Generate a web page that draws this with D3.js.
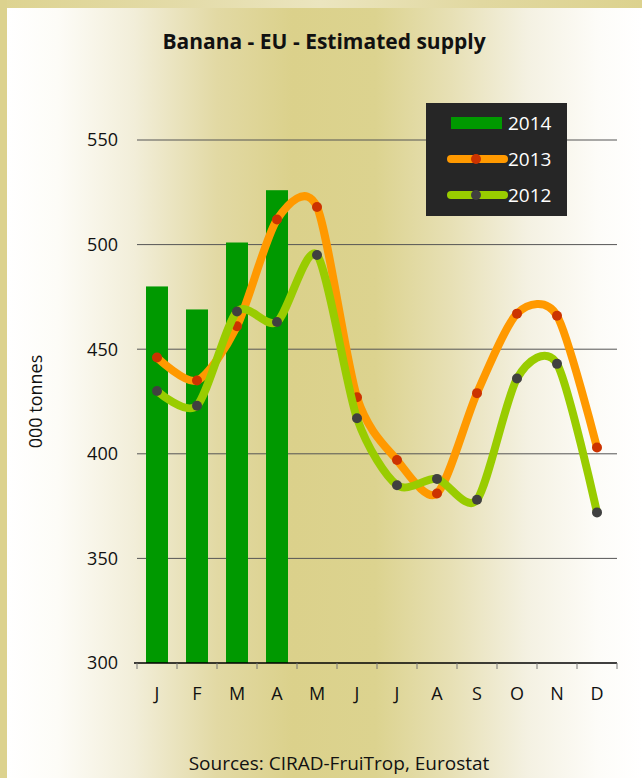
<!DOCTYPE html>
<html>
<head>
<meta charset="utf-8">
<script src="https://cdn.jsdelivr.net/npm/d3@7"></script>
<style>
    body { margin: 0; background: #ffffff; }
    svg { display: block; }
    text { font-family: "Open Sans", "Noto Sans", sans-serif; fill: #111; }
</style>
</head>
<body>
<script>
//chart data
var months = ["J", "F", "M", "A", "M", "J", "J", "A", "S", "O", "N", "D"];
var values2014 = [480, 469, 501, 526];
var values2013 = [446, 435, 461, 512, 518, 427, 397, 381, 429, 467, 466, 403];
var values2012 = [430, 423, 468, 463, 495, 417, 385, 388, 378, 436, 443, 372];
var yTicks = [300, 350, 400, 450, 500, 550];

window.onload = drawChart();

function drawChart(){
    var width = 642,
        height = 778;

    var svg = d3.select("body")
        .append("svg")
        .attr("width", width)
        .attr("height", height);

    var defs = svg.append("defs");

    //horizontal khaki gradient of the panel
    var grad = defs.append("linearGradient")
        .attr("id", "bg")
        .attr("x1", 0).attr("x2", 1).attr("y1", 0).attr("y2", 0);
    [[0, "#ffffff"], [0.08, "#fdfcf7"], [0.2, "#f2eed9"], [0.33, "#e2d9a4"],
     [0.45, "#dbd18b"], [0.58, "#dcd38f"], [0.7, "#e7e0b5"], [0.82, "#f4f1e2"],
     [0.93, "#fdfcf8"], [1, "#ffffff"]]
        .forEach(function(s){
            grad.append("stop").attr("offset", s[0]).attr("stop-color", s[1]);
        });

    var gradTop = defs.append("linearGradient")
        .attr("id", "border")
        .attr("x1", 0).attr("x2", 1).attr("y1", 0).attr("y2", 0);
    [[0, "#ddd390"], [0.3, "#e4dcaa"], [0.5, "#ebe5bf"], [0.75, "#e1d8a0"], [1, "#dcd28e"]]
        .forEach(function(s){
            gradTop.append("stop").attr("offset", s[0]).attr("stop-color", s[1]);
        });

    //border and background
    svg.append("rect")
        .attr("width", width).attr("height", height)
        .attr("fill", "url(#border)");
    svg.append("rect")
        .attr("x", 0).attr("y", 0).attr("width", 7).attr("height", height)
        .attr("fill", "#dcd28e");
    svg.append("rect")
        .attr("x", 7).attr("y", 8)
        .attr("width", width - 7).attr("height", height - 8)
        .attr("fill", "url(#bg)");

    //scales
    var x = d3.scaleBand()
        .domain(d3.range(12))
        .range([137, 617]);

    var y = d3.scaleLinear()
        .domain([300, 550])
        .range([663, 140]);

    var cx = function(d, i){ return x(i) + x.bandwidth() / 2; };

    //gridlines
    svg.selectAll(".grid")
        .data(yTicks.slice(1))
        .enter()
        .append("line")
        .attr("class", "grid")
        .attr("x1", 137).attr("x2", 617)
        .attr("y1", function(d){ return y(d); })
        .attr("y2", function(d){ return y(d); })
        .attr("stroke", "#555")
        .attr("stroke-width", 1);

    //y axis labels
    svg.selectAll(".ylab")
        .data(yTicks)
        .enter()
        .append("text")
        .attr("class", "ylab")
        .attr("x", 118)
        .attr("y", function(d){ return y(d); })
        .attr("dy", "0.35em")
        .attr("text-anchor", "end")
        .style("font-size", "18px")
        .text(function(d){ return d; });

    svg.append("text")
        .attr("transform", "translate(42," + y(425) + ") rotate(-90)")
        .attr("text-anchor", "middle")
        .style("font-size", "18px")
        .text("000 tonnes");

    //2014 bars
    svg.selectAll(".bar")
        .data(values2014)
        .enter()
        .append("rect")
        .attr("class", "bar")
        .attr("x", function(d, i){ return cx(d, i) - 11; })
        .attr("width", 22)
        .attr("y", function(d){ return y(d); })
        .attr("height", function(d){ return y(300) - y(d); })
        .attr("fill", "#009900");

    //x axis
    var xAxis = svg.append("g");
    xAxis.append("line")
        .attr("x1", 134).attr("x2", 617)
        .attr("y1", y(300)).attr("y2", y(300))
        .attr("stroke", "#000").attr("stroke-width", 1.5);
    xAxis.selectAll(".xtick")
        .data(d3.range(13))
        .enter()
        .append("line")
        .attr("x1", function(d){ return 137 + d * x.bandwidth(); })
        .attr("x2", function(d){ return 137 + d * x.bandwidth(); })
        .attr("y1", y(300)).attr("y2", y(300) + 6)
        .attr("stroke", "#777");
    xAxis.selectAll(".xlab")
        .data(months)
        .enter()
        .append("text")
        .attr("x", cx)
        .attr("y", 700)
        .attr("text-anchor", "middle")
        .style("font-size", "18px")
        .text(function(d){ return d; });

    //smoothed lines
    var line = d3.line()
        .x(cx)
        .y(function(d){ return y(d); })
        .curve(d3.curveCardinal.tension(0.2));

    function drawSeries(data, lineColor, dotColor){
        svg.append("path")
            .datum(data)
            .attr("d", line)
            .attr("fill", "none")
            .attr("stroke", lineColor)
            .attr("stroke-width", 8)
            .attr("stroke-linecap", "round")
            .attr("stroke-linejoin", "round");
        svg.append("g").selectAll("circle")
            .data(data)
            .enter()
            .append("circle")
            .attr("cx", cx)
            .attr("cy", function(d){ return y(d); })
            .attr("r", 5)
            .attr("fill", dotColor);
    }

    drawSeries(values2013, "#ff9900", "#cc3300");
    drawSeries(values2012, "#99cc00", "#404040");

    //legend
    var legend = svg.append("g").attr("transform", "translate(426,103)");
    legend.append("rect")
        .attr("width", 141).attr("height", 113)
        .attr("fill", "#262626");
    legend.append("rect")
        .attr("x", 25).attr("y", 14).attr("width", 51).attr("height", 12)
        .attr("fill", "#009900");
    var legendLines = [
        {y: 56, color: "#ff9900", dot: "#cc3300"},
        {y: 92, color: "#99cc00", dot: "#404040"}
    ];
    legendLines.forEach(function(l){
        legend.append("line")
            .attr("x1", 25).attr("x2", 78)
            .attr("y1", l.y).attr("y2", l.y)
            .attr("stroke", l.color).attr("stroke-width", 8)
            .attr("stroke-linecap", "round");
        legend.append("circle")
            .attr("cx", 50).attr("cy", l.y).attr("r", 5)
            .attr("fill", l.dot);
    });
    legend.selectAll(".ltext")
        .data(["2014", "2013", "2012"])
        .enter()
        .append("text")
        .attr("x", 82)
        .attr("y", function(d, i){ return 20 + i * 36; })
        .attr("dy", "0.35em")
        .style("font-size", "19px")
        .style("fill", "#ffffff")
        .text(function(d){ return d; });

    //title and source
    svg.append("text")
        .attr("x", 324).attr("y", 49)
        .attr("text-anchor", "middle")
        .style("font-size", "21px")
        .style("font-weight", "bold")
        .text("Banana - EU - Estimated supply");

    svg.append("text")
        .attr("x", 339).attr("y", 770)
        .attr("text-anchor", "middle")
        .style("font-size", "19px")
        .text("Sources: CIRAD-FruiTrop, Eurostat");
}
</script>
</body>
</html>
